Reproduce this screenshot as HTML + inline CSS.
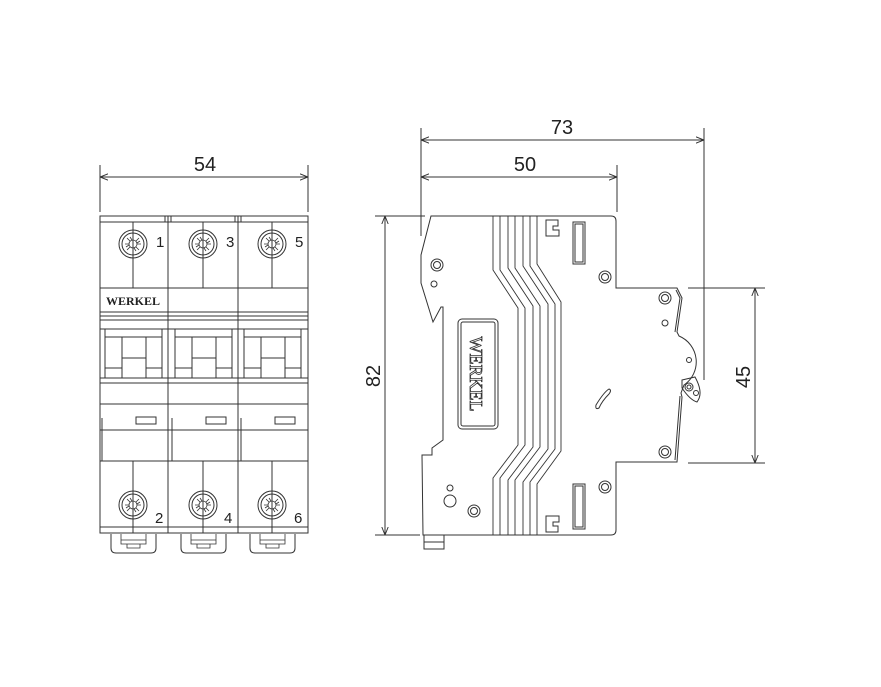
<!DOCTYPE html>
<html><head><meta charset="utf-8"><style>
html,body{margin:0;padding:0;background:#fff;}
svg{display:block}
text{font-family:"Liberation Sans",sans-serif;fill:#222}
</style></head><body>
<svg width="881" height="687" viewBox="0 0 881 687" xmlns="http://www.w3.org/2000/svg">
<defs>
<marker id="a" viewBox="0 0 10 10" refX="10" refY="5" markerWidth="8" markerHeight="8" orient="auto-start-reverse"><path d="M0,1 L10,5 L0,9" fill="none" stroke="#333" stroke-width="1.2"/></marker>
<g id="scr"><circle r="14" fill="none" stroke="#333" stroke-width="1"/><circle r="11" fill="none" stroke="#333" stroke-width="1"/><circle r="4" fill="none" stroke="#333" stroke-width="0.8"/>
<path d="M-8,0 L-4,0 M4,0 L8,0 M-6,-6 L-3,-3 M3,3 L6,6 M6,-6 L3,-3 M-3,3 L-6,6 M-3,-7 L-1,-4 M3,7 L1,4 M7,-3 L4,-1 M-7,3 L-4,1" stroke="#333" stroke-width="0.8"/></g>
<g id="clip"><path d="M0,0 L0,14 Q0,19 5,19 L40,19 Q45,19 45,14 L45,0" fill="none" stroke="#333"/><path d="M10,0 L10,10 L35,10 L35,0 M10,6 L35,6 M16,10 L16,14 L29,14 L29,10" fill="none" stroke="#333" stroke-width="0.8"/></g>
</defs>
<g stroke="#333" fill="none" stroke-width="1">
<line x1="100" y1="165" x2="100" y2="212"/><line x1="308" y1="165" x2="308" y2="212"/>
<line x1="100" y1="177" x2="308" y2="177" marker-start="url(#a)" marker-end="url(#a)"/>
<rect x="100" y="216" width="208" height="317"/>
<line x1="100" y1="222" x2="308" y2="222"/>
<line x1="168" y1="216" x2="168" y2="533"/><line x1="238" y1="216" x2="238" y2="533"/>
<line x1="165" y1="216" x2="165" y2="222"/><line x1="171" y1="216" x2="171" y2="222"/><line x1="235" y1="216" x2="235" y2="222"/><line x1="241" y1="216" x2="241" y2="222"/>
<line x1="100" y1="288" x2="308" y2="288"/><line x1="100" y1="312" x2="308" y2="312"/>
<line x1="100" y1="316" x2="308" y2="316"/><line x1="100" y1="320" x2="308" y2="320"/>
<line x1="100" y1="329" x2="308" y2="329"/><line x1="100" y1="378" x2="308" y2="378"/>
<line x1="100" y1="383" x2="308" y2="383"/><line x1="100" y1="404" x2="308" y2="404"/>
<line x1="100" y1="430" x2="308" y2="430"/><line x1="100" y1="461" x2="308" y2="461"/>
<line x1="100" y1="527" x2="308" y2="527"/>
<g id="tg"><rect x="105" y="329" width="57" height="49"/><line x1="122" y1="337" x2="122" y2="378"/><line x1="146" y1="337" x2="146" y2="378"/><line x1="105" y1="337" x2="162" y2="337"/><line x1="122" y1="358" x2="146" y2="358"/><line x1="105" y1="368" x2="122" y2="368"/><line x1="146" y1="368" x2="162" y2="368"/><rect x="136" y="417" width="20" height="7"/><line x1="102" y1="418" x2="102" y2="461"/></g>
<use href="#tg" x="70"/><use href="#tg" x="139"/>
<line x1="133" y1="222" x2="133" y2="288"/><line x1="203" y1="222" x2="203" y2="288"/><line x1="272" y1="222" x2="272" y2="288"/>
<line x1="133" y1="461" x2="133" y2="533"/><line x1="203" y1="461" x2="203" y2="533"/><line x1="272" y1="461" x2="272" y2="533"/>
<use href="#scr" x="133" y="244"/><use href="#scr" x="203" y="244"/><use href="#scr" x="272" y="244"/>
<use href="#scr" x="133" y="505"/><use href="#scr" x="203" y="505"/><use href="#scr" x="272" y="505"/>
<use href="#clip" x="111" y="534"/><use href="#clip" x="181" y="534"/><use href="#clip" x="250" y="534"/>
<line x1="421" y1="128" x2="421" y2="236"/><line x1="704" y1="128" x2="704" y2="380"/><line x1="617" y1="165" x2="617" y2="212"/>
<line x1="421" y1="140" x2="704" y2="140" marker-start="url(#a)" marker-end="url(#a)"/>
<line x1="421" y1="177" x2="617" y2="177" marker-start="url(#a)" marker-end="url(#a)"/>
<line x1="375" y1="216" x2="425" y2="216"/><line x1="375" y1="535" x2="420" y2="535"/>
<line x1="385" y1="216" x2="385" y2="535" marker-start="url(#a)" marker-end="url(#a)"/>
<line x1="688" y1="288" x2="765" y2="288"/><line x1="688" y1="463" x2="765" y2="463"/>
<line x1="755" y1="288" x2="755" y2="463" marker-start="url(#a)" marker-end="url(#a)"/>
<path d="M431,216 L611,216 Q616,216 616,221 L616,288 L677,288 L682,298 L677,332 L679,336 A28,28 0 0 1 684,385 L681,393 L682,397 L677,462 L616,462 L616,530 Q616,535 611,535 L423,535 L422,455 L432,455 L432,448 L443,440 L443,307 L441,307 L433,322 L421,283 L421,255 Z"/>
<path d="M676,290 L680,298 L675,332 M680,396 L675,460"/>
<path d="M682,380 L695,377 Q704,393 697,402 Q690,400 682,388 Z"/><circle cx="689" cy="387" r="4"/><circle cx="689" cy="387" r="2"/><circle cx="696" cy="393" r="2.5"/>
<circle cx="689" cy="360" r="2.5"/>
<rect x="458" y="319" width="40" height="110" rx="4"/><rect x="461" y="322" width="34" height="104" rx="2"/>
<circle cx="437" cy="265" r="6"/><circle cx="437" cy="265" r="3.5"/><circle cx="434" cy="284" r="3"/>
<circle cx="605" cy="277" r="6"/><circle cx="605" cy="277" r="3.5"/>
<circle cx="665" cy="298" r="6"/><circle cx="665" cy="298" r="3.5"/><circle cx="665" cy="323" r="3"/>
<circle cx="665" cy="452" r="6"/><circle cx="665" cy="452" r="3.5"/>
<circle cx="605" cy="487" r="6"/><circle cx="605" cy="487" r="3.5"/>
<circle cx="474" cy="511" r="6"/><circle cx="474" cy="511" r="3.5"/>
<circle cx="450" cy="501" r="6"/><circle cx="450" cy="488" r="3"/>
<path d="M596,405 Q604,392 609,389 Q612,390 609,394 Q602,401 599,408 Q595,410 596,405 Z"/>
<rect x="573" y="222" width="12" height="42"/><rect x="575" y="224" width="8" height="38"/>
<rect x="573" y="484" width="12" height="45"/><rect x="575" y="486" width="8" height="41"/>
<path d="M546,220 L558,220 L558,226 L553,226 L553,230 L559,230 L559,236 L546,236 Z"/>
<path d="M546,532 L558,532 L558,526 L553,526 L553,522 L559,522 L559,516 L546,516 Z"/>
<rect x="424" y="535" width="20" height="14"/><line x1="424" y1="542" x2="444" y2="542"/>
<g stroke-width="0.9">
<path d="M493,216 L493,270 L518,308 L518,445 L493,478 L493,535"/>
<path d="M500,216 L500,270 L525,308 L525,445 L500,478 L500,535"/>
<path d="M508,216 L508,268 L533,306 L533,447 L508,480 L508,535"/>
<path d="M515,216 L515,268 L540,306 L540,447 L515,480 L515,535"/>
<path d="M523,216 L523,266 L548,304 L548,449 L523,482 L523,535"/>
<path d="M530,216 L530,266 L555,304 L555,449 L530,482 L530,535"/>
<path d="M537,216 L537,264 L561,302 L561,451 L537,484 L537,535"/>
</g>
</g>
<text x="205" y="171" font-size="20" text-anchor="middle">54</text>
<text x="562" y="134" font-size="20" text-anchor="middle">73</text>
<text x="525" y="171" font-size="20" text-anchor="middle">50</text>
<text transform="translate(380,376) rotate(-90)" font-size="20" text-anchor="middle">82</text>
<text transform="translate(750,377) rotate(-90)" font-size="20" text-anchor="middle">45</text>
<text x="106" y="305" font-size="12" font-weight="bold" style="font-family:'Liberation Serif',serif">WERKEL</text>
<text transform="translate(470,374) rotate(90)" font-size="18" text-anchor="middle" stroke="#333" stroke-width="0.8" style="font-family:'Liberation Serif',serif;fill:none">WERKEL</text>
<g font-size="15"><text x="156" y="247">1</text><text x="226" y="247">3</text><text x="295" y="247">5</text>
<text x="155" y="523">2</text><text x="224" y="523">4</text><text x="294" y="523">6</text></g>
</svg>
</body></html>
